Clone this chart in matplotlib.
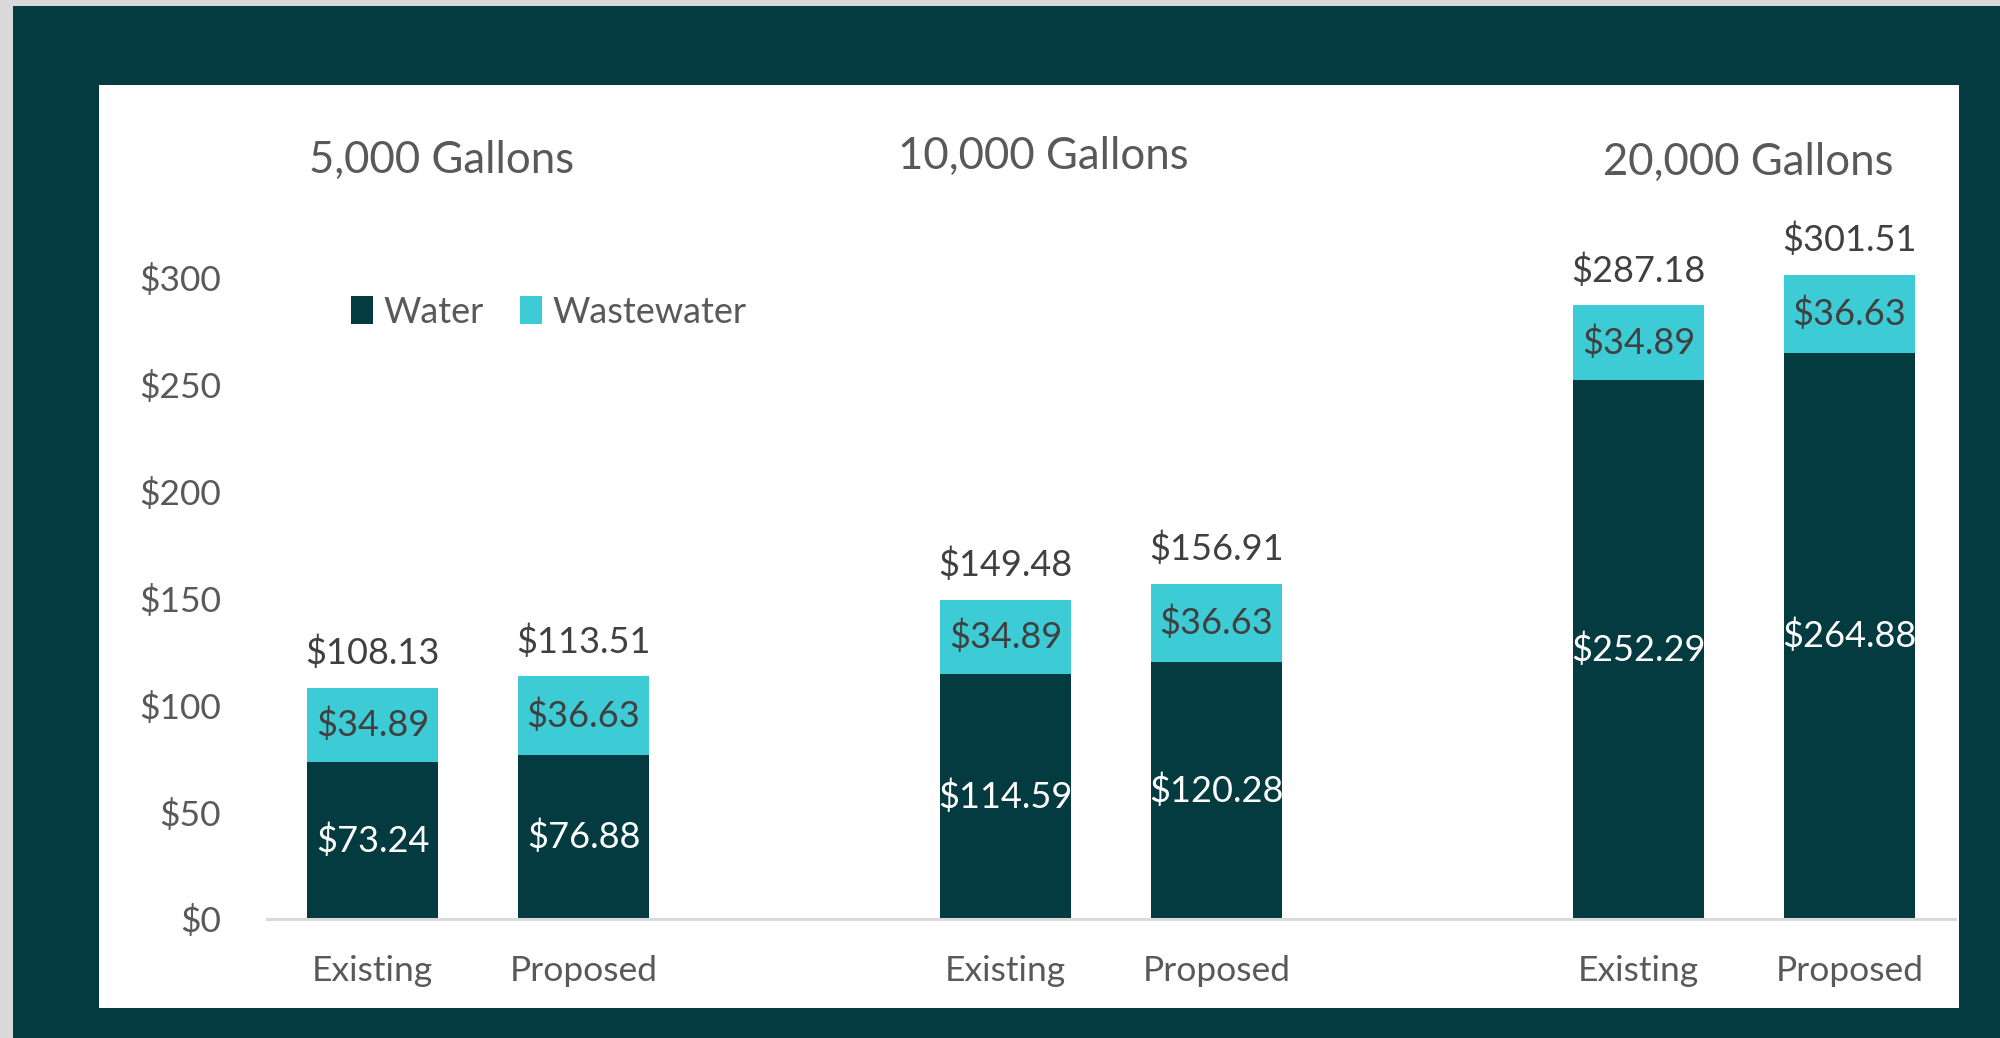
import matplotlib
matplotlib.use("Agg")
import matplotlib.pyplot as plt
from matplotlib.patches import Rectangle
import matplotlib.transforms as mtrans
import numpy as np

# ---- data ----
groups = ["5,000 Gallons", "10,000 Gallons", "20,000 Gallons"]
scenarios = ["Existing", "Proposed"]
water = [73.24, 76.88, 114.59, 120.28, 252.29, 264.88]
wastewater = [34.89, 36.63, 34.89, 36.63, 34.89, 36.63]
totals = [108.13, 113.51, 149.48, 156.91, 287.18, 301.51]
yticks = [0, 50, 100, 150, 200, 250, 300]
series_names = ["Water", "Wastewater"]

# ---- style ----
DARK = "#033B40"
CYAN = "#3DCBD5"
GREY_TXT = "#595959"
LBL_TXT = "#404040"
FONT = "Lato"
plt.rcParams['font.family'] = [FONT, 'DejaVu Sans']

W, H = 2000, 1038
fig = plt.figure(figsize=(W / 100, H / 100), dpi=100)
fig.patch.set_facecolor("#D9D9D9")

def px_rect(x0, y0, x1, y1, color, z):
    fig.patches.append(Rectangle((x0 / W, 1 - y1 / H), (x1 - x0) / W, (y1 - y0) / H,
                                 transform=fig.transFigure, facecolor=color,
                                 edgecolor="none", zorder=z))

px_rect(13, 6, 2000, 1038, DARK, 0)
px_rect(99, 85, 1959, 1008, "white", 1)

base_px, top_px = 919, 171
left_px, right_px = 267, 1955
ax = fig.add_axes([left_px / W, 1 - base_px / H, (right_px - left_px) / W, (base_px - top_px) / H])
ax.set_zorder(2)
ax.patch.set_alpha(0)

x = np.array([0, 1, 3, 4, 6, 7], dtype=float)
bw = 0.62
ax.bar(x, water, bw, color=DARK, label=series_names[0])
ax.bar(x, wastewater, bw, bottom=water, color=CYAN, label=series_names[1])

ax.set_xlim(-0.5, 7.5)
ax.set_ylim(0, 350)
ax.set_yticks(yticks)
ax.set_yticklabels([f"${v}" for v in yticks])
ax.set_xticks(x)
ax.set_xticklabels(scenarios * 3)
for s in ["top", "right", "left"]:
    ax.spines[s].set_visible(False)
ax.spines["bottom"].set_color("#D9D9D9")
ax.spines["bottom"].set_linewidth(2.2)
ax.tick_params(axis="both", length=0, labelsize=25.5, colors=GREY_TXT)
ax.tick_params(axis="y", pad=33)
ax.tick_params(axis="x", pad=26)

lbl_fs = 26
for xi, w, ww, t in zip(x, water, wastewater, totals):
    ax.text(xi, w / 2, f"${w:.2f}", ha="center", va="center", color="white", fontsize=lbl_fs)
    ax.text(xi, w + ww / 2, f"${ww:.2f}", ha="center", va="center", color=LBL_TXT, fontsize=lbl_fs)
    ax.annotate(f"${t:.2f}", (xi, t), xytext=(0, 25), textcoords="offset points",
                ha="center", va="center", color=LBL_TXT, fontsize=lbl_fs)

title_x = [0.325, 3.18, 6.52]
title_y = [160, 156, 162]
tr = mtrans.blended_transform_factory(ax.transData, fig.transFigure)
for g, tx, ty in zip(groups, title_x, title_y):
    ax.text(tx, 1 - ty / H, g, transform=tr, ha="center", va="center",
            fontsize=31.5, color=GREY_TXT)

leg = ax.legend(loc="center left", bbox_to_anchor=(333 / W, 1 - 312 / H),
                bbox_transform=fig.transFigure, ncol=2, frameon=False,
                fontsize=26, handlelength=0.6, handleheight=0.85, handletextpad=0.3,
                columnspacing=1.0, borderpad=0)
for t in leg.get_texts():
    t.set_color(GREY_TXT)

fig.savefig("out.png", dpi=100, facecolor=fig.get_facecolor())
